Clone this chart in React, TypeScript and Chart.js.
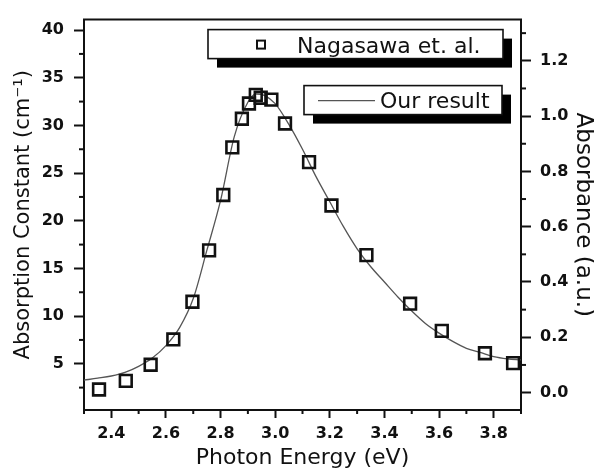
import React, { useEffect, useRef } from 'react';
import { Chart, registerables } from 'chart.js';

Chart.register(...registerables);

// Measured data (Nagasawa et. al.) in cm^-1
const energy = [2.355, 2.453, 2.544, 2.627, 2.697, 2.758, 2.81, 2.843, 2.878, 2.904, 2.929, 2.947, 2.986, 3.036, 3.124, 3.206, 3.334, 3.494, 3.61, 3.768, 3.871];
const absorption = [2.3, 3.2, 4.9, 7.55, 11.5, 16.9, 22.7, 27.7, 30.7, 32.3, 33.2, 32.9, 32.7, 30.2, 26.15, 21.6, 16.4, 11.3, 8.45, 6.1, 5.07];

// Calculated curve (Our result) in absorbance (a.u.)
const curveEnergy = [2.3, 2.35, 2.4, 2.45, 2.5, 2.55, 2.6, 2.65, 2.7, 2.75, 2.8, 2.85, 2.9, 2.93, 2.96, 3.0, 3.05, 3.1, 3.15, 3.2, 3.25, 3.3, 3.35, 3.4, 3.45, 3.5, 3.55, 3.6, 3.65, 3.7, 3.75, 3.8, 3.85, 3.9];
const curveAbsorbance = [0.045, 0.052, 0.06, 0.073, 0.095, 0.125, 0.17, 0.235, 0.34, 0.515, 0.695, 0.925, 1.05, 1.08, 1.075, 1.045, 0.97, 0.88, 0.78, 0.69, 0.6, 0.52, 0.455, 0.4, 0.345, 0.295, 0.25, 0.215, 0.185, 0.16, 0.145, 0.13, 0.122, 0.118];

const xMajorTicks = [2.4, 2.6, 2.8, 3.0, 3.2, 3.4, 3.6, 3.8];
const xMinorTicks = [2.3, 2.5, 2.7, 2.9, 3.1, 3.3, 3.5, 3.7, 3.9];
const leftMajorTicks = [5, 10, 15, 20, 25, 30, 35, 40];
const leftMinorTicks = [2.5, 7.5, 12.5, 17.5, 22.5, 27.5, 32.5, 37.5];
const rightMajorTicks = [0, 0.2, 0.4, 0.6, 0.8, 1.0, 1.2];
const rightMinorTicks = [0.1, 0.3, 0.5, 0.7, 0.9, 1.1, 1.3];

const xTitle = 'Photon Energy (eV)';
const leftTitle = 'Absorption Constant (cm\u207B\u00B9)';
const rightTitle = 'Absorbance (a.u.)';
const seriesNames = ['Nagasawa et. al.', 'Our result'];

const INK = '#111';
const CURVE = '#555';
const FONT = 'DejaVu Sans';

const decor = {
  id: 'decor',
  afterDraw(chart: any) {
    const { ctx, chartArea: a, scales } = chart;
    ctx.save();
    ctx.strokeStyle = INK;
    ctx.lineWidth = 2;
    const line = (x1: number, y1: number, x2: number, y2: number) => {
      ctx.beginPath();
      ctx.moveTo(x1, y1);
      ctx.lineTo(x2, y2);
      ctx.stroke();
    };
    // top frame
    line(a.left - 1, a.top, a.right + 1, a.top);
    // minor ticks
    xMinorTicks.forEach((v) => {
      const px = scales.x.getPixelForValue(v);
      line(px, a.bottom, px, a.bottom + 4);
    });
    leftMinorTicks.forEach((v) => {
      const py = scales.y.getPixelForValue(v);
      line(a.left - 5, py, a.left, py);
    });
    rightMinorTicks.forEach((v) => {
      const py = scales.y1.getPixelForValue(v);
      line(a.right, py, a.right + 5, py);
    });

    // legend boxes with shadows
    const box = (x: number, y: number, w: number, h: number) => {
      ctx.fillStyle = '#000';
      ctx.fillRect(x + 9, y + 9, w, h);
      ctx.fillStyle = '#fff';
      ctx.fillRect(x, y, w, h);
      ctx.lineWidth = 1.6;
      ctx.strokeStyle = INK;
      ctx.strokeRect(x, y, w, h);
    };
    ctx.font = `22px "${FONT}"`;
    ctx.textBaseline = 'alphabetic';
    ctx.textAlign = 'left';

    const b1x = a.left + 124, b1y = a.top + 10;
    box(b1x, b1y, 295, 29);
    ctx.lineWidth = 2;
    ctx.strokeStyle = INK;
    ctx.strokeRect(b1x + 49, b1y + 11, 8, 8);
    ctx.fillStyle = INK;
    ctx.fillText(seriesNames[0], b1x + 89, b1y + 23);

    const b2x = a.left + 220, b2y = a.top + 66;
    box(b2x, b2y, 198, 29);
    ctx.strokeStyle = CURVE;
    ctx.lineWidth = 1.3;
    line(b2x + 14, b2y + 15, b2x + 71, b2y + 15);
    ctx.fillStyle = INK;
    ctx.fillText(seriesNames[1], b2x + 76, b2y + 22);
    ctx.restore();
  },
};

export default function App() {
  const ref = useRef<HTMLCanvasElement | null>(null);
  useEffect(() => {
    if (!ref.current) return;
    const tickFont = { family: FONT, size: 16, weight: 'bold' as const };
    const chart = new Chart(ref.current, {
      type: 'scatter',
      data: {
        datasets: [
          {
            label: seriesNames[0],
            data: energy.map((x, i) => ({ x, y: absorption[i] })),
            yAxisID: 'y',
            showLine: false,
            pointStyle: 'rect',
            pointRadius: 8.3,
            pointHoverRadius: 8.3,
            pointBorderWidth: 2.6,
            pointBorderColor: INK,
            pointBackgroundColor: 'rgba(0,0,0,0)',
            order: 1,
          },
          {
            label: seriesNames[1],
            data: curveEnergy.map((x, i) => ({ x, y: curveAbsorbance[i] })),
            yAxisID: 'y1',
            showLine: true,
            pointRadius: 0,
            borderColor: CURVE,
            borderWidth: 1.3,
            cubicInterpolationMode: 'monotone',
            fill: false,
            order: 2,
          },
        ],
      },
      options: {
        animation: false,
        responsive: false,
        devicePixelRatio: 1,
        layout: { padding: { top: 14, left: 0, right: 0, bottom: 0 } },
        plugins: { legend: { display: false }, tooltip: { enabled: false } },
        scales: {
          x: {
            type: 'linear',
            position: 'bottom',
            min: 2.3,
            max: 3.9,
            afterBuildTicks: (s: any) => { s.ticks = xMajorTicks.map((v) => ({ value: v })); },
            afterFit: (s: any) => { s.height = 64; },
            ticks: { font: tickFont, color: INK, padding: 6.5, maxRotation: 0, autoSkip: false, callback: (v: any) => Number(v).toFixed(1) },
            grid: { drawOnChartArea: false, drawTicks: true, tickLength: 8, tickWidth: 2, tickColor: INK },
            border: { display: true, color: INK, width: 2 },
            title: { display: true, text: xTitle, color: INK, font: { family: FONT, size: 22 }, padding: { top: 0, bottom: 3 } },
          },
          y: {
            type: 'linear',
            position: 'left',
            min: 0.15,
            max: 41.1,
            afterBuildTicks: (s: any) => { s.ticks = leftMajorTicks.map((v) => ({ value: v })); },
            afterFit: (s: any) => { s.width = 84; },
            ticks: { font: tickFont, color: INK, padding: 10, autoSkip: false, callback: (v: any) => String(v) },
            grid: { drawOnChartArea: false, drawTicks: true, tickLength: 10, tickWidth: 2, tickColor: INK },
            border: { display: true, color: INK, width: 2 },
            title: { display: true, text: leftTitle, color: INK, font: { family: FONT, size: 21 }, padding: { top: 11, bottom: 0 } },
          },
          y1: {
            type: 'linear',
            position: 'right',
            min: -0.063,
            max: 1.349,
            afterBuildTicks: (s: any) => { s.ticks = rightMajorTicks.map((v) => ({ value: v })); },
            afterFit: (s: any) => { s.width = 73; },
            ticks: { font: tickFont, color: INK, padding: 9, autoSkip: false, callback: (v: any) => Number(v).toFixed(1) },
            grid: { drawOnChartArea: false, drawTicks: true, tickLength: 10, tickWidth: 2, tickColor: INK },
            border: { display: true, color: INK, width: 2 },
            title: { display: true, text: rightTitle, color: INK, font: { family: FONT, size: 23, lineHeight: 1.0 }, padding: { top: 0, bottom: 0 } },
          },
        },
      },
      plugins: [decor],
    } as any);
    return () => chart.destroy();
  }, []);
  return (
    <div style={{ position: 'absolute', left: 0, top: 0, width: 594, height: 474, background: '#fff' }}>
      <canvas ref={ref} width={594} height={474} style={{ display: 'block' }} />
    </div>
  );
}
